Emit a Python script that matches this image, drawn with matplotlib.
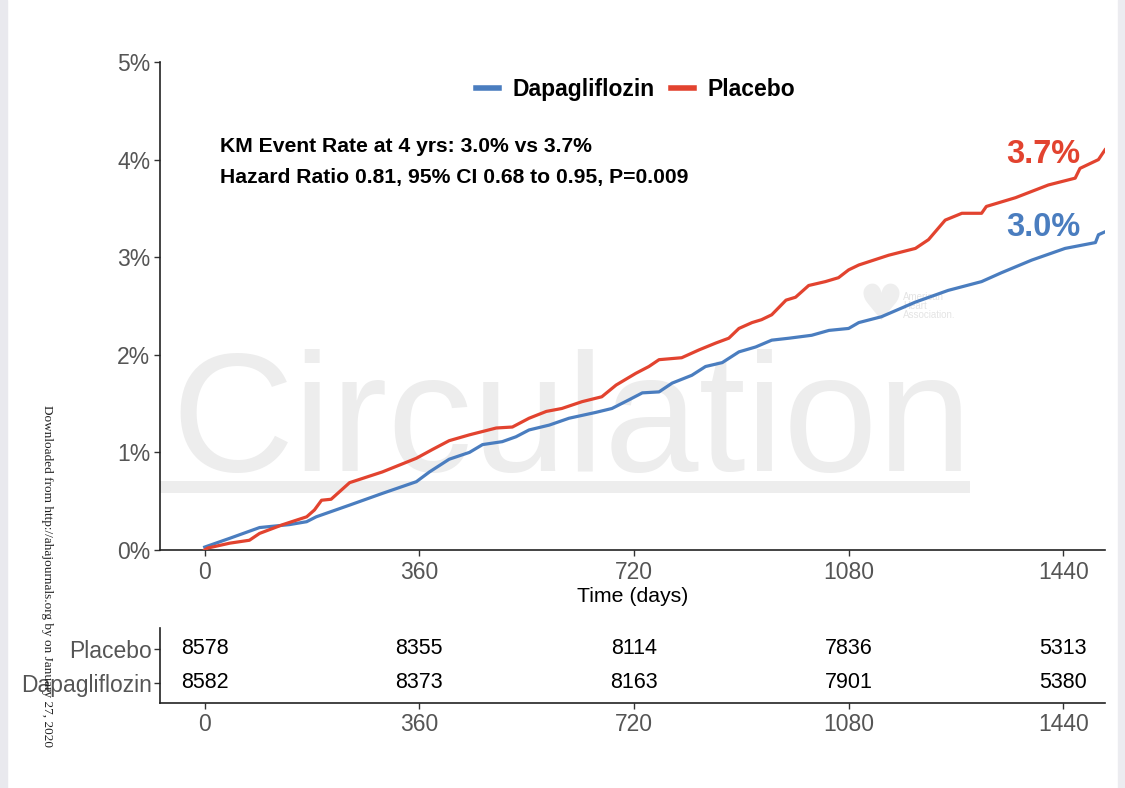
import numpy as np
import matplotlib.pyplot as plt
from matplotlib.patches import Rectangle
from matplotlib.lines import Line2D

# KM cumulative event rate (%)
days_pbo = [0, 5, 42, 75, 92, 131, 171, 184, 196, 212, 243, 298, 355, 382, 410, 444, 489, 516,
            544, 573, 599, 633, 666, 690, 723, 745, 762, 800, 829, 857, 879, 896, 918, 934, 951,
            975, 991, 1013, 1041, 1063, 1080, 1097, 1147, 1192, 1214, 1242, 1270, 1303, 1311,
            1360, 1415, 1460, 1468, 1499, 1510]
rate_pbo = [0, 0.02, 0.07, 0.10, 0.17, 0.26, 0.34, 0.41, 0.51, 0.52, 0.69, 0.80, 0.94, 1.03, 1.12,
            1.18, 1.25, 1.26, 1.35, 1.42, 1.45, 1.52, 1.57, 1.69, 1.81, 1.88, 1.95, 1.97, 2.05,
            2.12, 2.17, 2.27, 2.33, 2.36, 2.41, 2.56, 2.59, 2.71, 2.75, 2.79, 2.87, 2.92, 3.02,
            3.09, 3.18, 3.38, 3.45, 3.45, 3.52, 3.61, 3.74, 3.81, 3.91, 4.00, 4.10]

days_dapa = [0, 42, 92, 142, 171, 187, 243, 298, 355, 377, 410, 444, 466, 499, 522, 544, 578, 611,
             656, 683, 712, 734, 762, 784, 817, 840, 868, 896, 924, 951, 980, 1018, 1047, 1080,
             1097, 1135, 1192, 1247, 1303, 1336, 1387, 1443, 1494, 1499, 1510]
rate_dapa = [0.03, 0.12, 0.23, 0.26, 0.29, 0.34, 0.46, 0.58, 0.70, 0.80, 0.93, 1.00, 1.08, 1.11,
             1.16, 1.23, 1.28, 1.35, 1.41, 1.45, 1.54, 1.61, 1.62, 1.71, 1.79, 1.88, 1.92, 2.03,
             2.08, 2.15, 2.17, 2.20, 2.25, 2.27, 2.33, 2.39, 2.54, 2.66, 2.75, 2.84, 2.97, 3.09,
             3.15, 3.23, 3.26]

tick_days = [0, 360, 720, 1080, 1440]
risk_pbo = [8578, 8355, 8114, 7836, 5313]
risk_dapa = [8582, 8373, 8163, 7901, 5380]
groups = ['Dapagliflozin', 'Placebo']
final_rates = ['3.0%', '3.7%']

blue = '#4a7dbf'
red = '#e2432f'
grey_txt = '#555555'

plt.rcParams['font.family'] = ['Liberation Sans', 'DejaVu Sans']

fig = plt.figure(figsize=(11.25, 7.88), dpi=100)

# page borders of the screenshot
fig.patches.append(Rectangle((0, 0), 7/1125, 1, transform=fig.transFigure, color='#e9e9ee', zorder=0))
fig.patches.append(Rectangle((1118/1125, 0), 7/1125, 1, transform=fig.transFigure, color='#ececf0', zorder=0))

ax = fig.add_axes([160/1125, 1-550/788, 945/1125, 488/788])
ax.set_xlim(-75, 1510)
ax.set_ylim(0, 5)

# watermark
ax.text(0.012, 0.162, 'Circulation', transform=ax.transAxes, fontsize=122, color='#ededed',
        ha='left', va='baseline', zorder=0)
ax.add_patch(Rectangle((-8/945, (550-493)/488), 818/945, 12/488, transform=ax.transAxes,
                       color='#ededed', zorder=0, lw=0))
# AHA logo
ax.text(1135, 2.5, '\u2665', fontsize=36, color='#eeeeee', ha='center', va='center',
        family='DejaVu Sans', zorder=0)
ax.text(1172, 2.5, 'American\nHeart\nAssociation.', fontsize=7, color='#e4e4e4', ha='left',
        va='center', linespacing=0.9, zorder=0)

ax.plot(days_dapa, rate_dapa, color=blue, lw=2.3, zorder=3)
ax.plot(days_pbo, rate_pbo, color=red, lw=2.3, zorder=3)

for s in ['top', 'right']:
    ax.spines[s].set_visible(False)
for s in ['left', 'bottom']:
    ax.spines[s].set_linewidth(1.2)
    ax.spines[s].set_color('#222222')

ax.set_yticks([0, 1, 2, 3, 4, 5])
ax.set_yticklabels([f'{v}%' for v in range(6)])
ax.set_xticks(tick_days)
ax.tick_params(labelsize=16.5, labelcolor=grey_txt, color='#333333', length=4, width=1)
ax.tick_params(axis='x', pad=4)
ax.tick_params(axis='y', pad=3)
ax.set_xlabel('Time (days)', fontsize=15.3, labelpad=2)

handles = [Line2D([], [], color=blue, lw=4), Line2D([], [], color=red, lw=4)]
ax.legend(handles, groups, loc='center', bbox_to_anchor=(0.503, 0.943), ncol=2, frameon=False,
          prop={'size': 16.5, 'weight': 'bold'}, handlelength=1.0, columnspacing=0.7, handletextpad=0.6)

x_txt = -75 + (220 - 160) / 945 * 1585
ax.text(x_txt, (550 - 147) / 97.6, 'KM Event Rate at 4 yrs: 3.0% vs 3.7%', fontsize=15.2,
        fontweight='bold', va='center', ha='left')
ax.text(x_txt, (550 - 178) / 97.6, 'Hazard Ratio 0.81, 95% CI 0.68 to 0.95, P=0.009',
        fontsize=15.2, fontweight='bold', va='center', ha='left')

ax.text(1468, 4.05, final_rates[1], color=red, fontsize=23.5, fontweight='bold', ha='right', va='center')
ax.text(1468, 3.30, final_rates[0], color=blue, fontsize=23.5, fontweight='bold', ha='right', va='center')

# number at risk table
tx = fig.add_axes([160/1125, 1-703/788, 945/1125, 75/788])
tx.set_xlim(-75, 1510)
tx.set_ylim(0, 3)
for d, p, q in zip(tick_days, risk_pbo, risk_dapa):
    tx.text(d, 2.16, str(p), ha='center', va='center', fontsize=15.5)
    tx.text(d, 0.8, str(q), ha='center', va='center', fontsize=15.5)
tx.set_yticks([0.8, 2.16])
tx.set_yticklabels(groups)
tx.set_xticks(tick_days)
for s in ['top', 'right']:
    tx.spines[s].set_visible(False)
for s in ['left', 'bottom']:
    tx.spines[s].set_linewidth(1.2)
    tx.spines[s].set_color('#222222')
tx.tick_params(labelsize=16.5, labelcolor=grey_txt, color='#333333', length=4, width=1)
tx.tick_params(axis='x', pad=3)
tx.tick_params(axis='y', pad=2)

fig.text(47/1125, 1-405/788, 'Downloaded from http://ahajournals.org by on January 27, 2020',
         family='Liberation Serif', fontsize=9.5, rotation=270, ha='center', va='top', color='#222222')

fig.savefig('out.png', dpi=100)
